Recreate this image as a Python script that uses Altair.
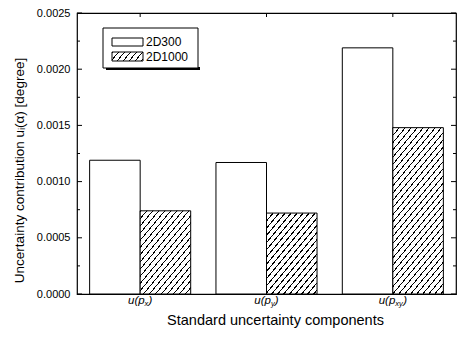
import math
import altair as alt
import pandas as pd

# ---------------- data ----------------
categories = ["u(px)", "u(py)", "u(pxy)"]
subscripts = ["x", "y", "xy"]
series = ["2D300", "2D1000"]
values_2d300 = [0.00119, 0.00117, 0.00219]
values_2d1000 = [0.00074, 0.00072, 0.00148]
y_major = [0.0, 0.0005, 0.0010, 0.0015, 0.0020, 0.0025]
y_minor = [0.00025, 0.00075, 0.00125, 0.00175, 0.00225]

W, H = 379, 281
YMAX = 0.0025
FONT = "Liberation Sans"

rows = []
for c, a, b in zip(categories, values_2d300, values_2d1000):
    rows.append({"cat": c, "series": series[0], "value": a})
    rows.append({"cat": c, "series": series[1], "value": b})
df = pd.DataFrame(rows)

x_scale = alt.Scale(domain=categories, paddingInner=0.2, paddingOuter=0.1)
off_scale = alt.Scale(domain=series)
y_scale = alt.Scale(domain=[0, YMAX], nice=False, zero=True)

step = W / (len(categories) - 0.2 + 0.2)
bar_w = step * 0.8 / 2


def hatch(w, h, period=6.0, slope=1.2, frac=0.2):
    k = h / (w * slope)
    m = (1 + k) / (1 + k * k)
    p = period / (w * (1 + k))  # stripe period in gradient units
    stops = []
    t = 0.0
    while t < 1.0:
        t1 = min(t + p * frac, 1.0)
        t2 = min(t + p, 1.0)
        stops += [alt.GradientStop(offset=t, color="black"),
                  alt.GradientStop(offset=t1, color="black"),
                  alt.GradientStop(offset=t1, color="white"),
                  alt.GradientStop(offset=t2, color="white")]
        t = t2
    return alt.LinearGradient(gradient="linear", stops=stops,
                              x1=0, y1=0, x2=m, y2=m * k)


base = alt.Chart(df)
enc = dict(
    x=alt.X("cat:N", scale=x_scale, sort=categories,
            axis=alt.Axis(labels=False, ticks=False, domain=False,
                          title="Standard uncertainty components",
                          titleFont=FONT, titleFontSize=14.5, titleFontWeight="normal",
                          titleColor="black", titlePadding=19, titleX=198)),
    xOffset=alt.XOffset("series:N", scale=off_scale, sort=series),
    y=alt.Y("value:Q", scale=y_scale,
            axis=alt.Axis(values=y_major, format=".4f", ticks=False, domain=False,
                          grid=False, labelFont=FONT, labelFontSize=11,
                          labelColor="black", labelPadding=7,
                          title="Uncertainty contribution uᵢ(α) [degree]",
                          titleFont=FONT, titleFontSize=13.5, titleFontWeight="normal",
                          titleColor="black", titlePadding=10, titleY=157)),
)

layers = []
white = base.transform_filter(alt.datum.series == series[0]).mark_bar(
    fill="white", stroke="black", strokeWidth=1).encode(**enc)
layers.append(white)

for c, v in zip(categories, values_2d1000):
    h = v / YMAX * H
    lay = base.transform_filter(
        (alt.datum.series == series[1]) & (alt.datum.cat == c)
    ).mark_bar(fill=hatch(bar_w, h), stroke="black", strokeWidth=1).encode(**enc)
    layers.append(lay)

# inward ticks (left / right)
tick_df = pd.DataFrame({"v": y_major + y_minor,
                        "major": [True] * len(y_major) + [False] * len(y_minor)})
tk = alt.Chart(tick_df)
yv = alt.Y("v:Q", scale=y_scale)
for cond, length in [(True, 5), (False, 3)]:
    d = tk.transform_filter(alt.datum.major == cond)
    layers.append(d.mark_rule(color="black", strokeWidth=1).encode(
        y=yv, x=alt.value(0), x2=alt.value(length)))
    layers.append(d.mark_rule(color="black", strokeWidth=1).encode(
        y=yv, x=alt.value(W), x2=alt.value(W - length)))

# top ticks at category centres
cat_df = pd.DataFrame({"cat": categories, "sub": subscripts})
layers.append(alt.Chart(cat_df).mark_rule(color="black", strokeWidth=1).encode(
    x=alt.X("cat:N", scale=x_scale, sort=categories), y=alt.value(0), y2=alt.value(4)))

# custom x labels with subscripts
FS, FSS = 11.5, 7.5
for c, s in zip(categories, subscripts):
    w_main, w_sub, w_close = 16.6, 3.9 * len(s), 3.8
    total = w_main + w_sub + w_close
    start = -total / 2
    one = alt.Chart(cat_df).transform_filter(alt.datum.cat == c)
    xe = alt.X("cat:N", scale=x_scale, sort=categories)
    layers.append(one.mark_text(text="u(p", align="right", baseline="middle",
                                font=FONT, fontSize=FS, fontStyle="italic",
                                dx=start + w_main, color="black").encode(
        x=xe, y=alt.value(H + 7)))
    layers.append(one.mark_text(text=s, align="left", baseline="middle",
                                font=FONT, fontSize=FSS, fontStyle="italic",
                                dx=start + w_main, dy=3, color="black").encode(
        x=xe, y=alt.value(H + 7)))
    layers.append(one.mark_text(text=")", align="left", baseline="middle",
                                font=FONT, fontSize=FS, fontStyle="italic",
                                dx=start + w_main + w_sub, color="black").encode(
        x=xe, y=alt.value(H + 7)))

# legend
leg = alt.Chart(pd.DataFrame({"series": series}))
lx0, lx1, ly0, ly1 = 26, 121, 15, 55
layers.append(leg.transform_filter(alt.datum.series == series[0]).mark_rect(
    fill="black").encode(x=alt.value(lx0 + 3), x2=alt.value(lx1 + 2),
                         y=alt.value(ly1 - 1), y2=alt.value(ly1 + 2)))
layers.append(leg.transform_filter(alt.datum.series == series[0]).mark_rect(
    fill="white", stroke="black", strokeWidth=1).encode(
    x=alt.value(lx0), x2=alt.value(lx1), y=alt.value(ly0), y2=alt.value(ly1)))
sw = [(25, 33), (39, 48)]
for i, s in enumerate(series):
    d = leg.transform_filter(alt.datum.series == s)
    fill = "white" if i == 0 else hatch(31, sw[i][1] - sw[i][0], period=6)
    layers.append(d.mark_rect(fill=fill, stroke="black", strokeWidth=1).encode(
        x=alt.value(35), x2=alt.value(66), y=alt.value(sw[i][0]), y2=alt.value(sw[i][1])))
    layers.append(d.mark_text(align="left", baseline="middle", font=FONT, fontSize=12,
                              color="black").encode(
        text="series:N", x=alt.value(69), y=alt.value((sw[i][0] + sw[i][1]) / 2)))

chart = alt.layer(*layers).properties(
    width=W, height=H,
    autosize=alt.AutoSizeParams(type="none"),
    padding={"left": 77, "top": 13, "right": 2, "bottom": 48},
    background="white",
).configure_view(stroke="black", strokeWidth=1.2)

chart.save("out.html", embed_options={"renderer": "svg", "actions": False})
